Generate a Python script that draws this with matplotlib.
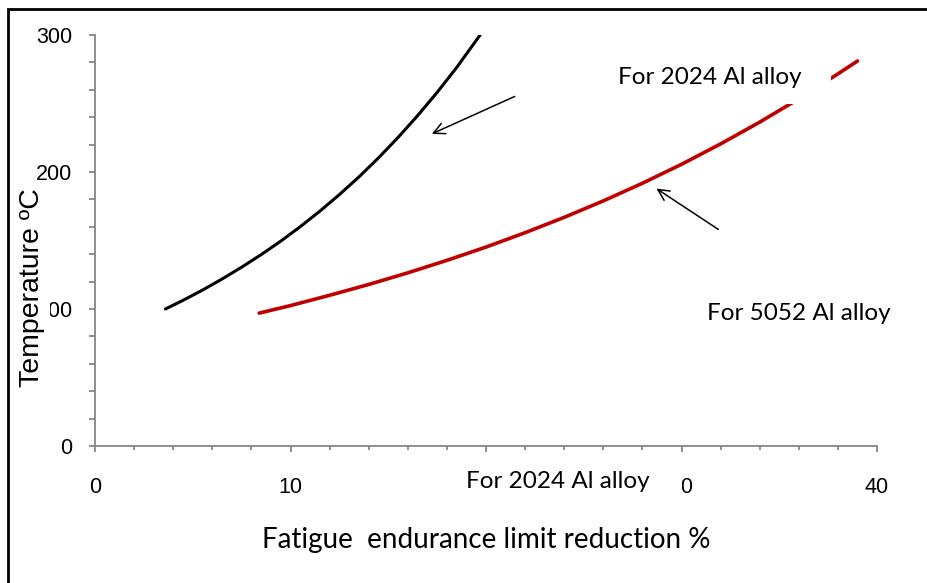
import matplotlib
matplotlib.use("Agg")
import matplotlib.pyplot as plt
from matplotlib.ticker import MultipleLocator
from matplotlib.patches import Rectangle

# Data
alloy_2024_x = [3.6, 4.5, 5.5, 6.5, 7.5, 8.5, 9.5, 10.5, 11.5, 12.5, 13.5,
                14.5, 15.5, 16.5, 17.5, 18.5, 19.7]
alloy_2024_y = [100, 106.3, 113.8, 121.9, 130.5, 139.7, 149.5, 160.1, 171.4,
                183.5, 196.4, 210.3, 225.2, 241.1, 258.1, 276.3, 300]
alloy_5052_x = [8.4, 10, 12, 14, 16, 18, 20, 22, 24, 26, 28, 30, 32, 34,
                36, 38, 39]
alloy_5052_y = [97, 102.5, 110, 117.9, 126.4, 135.5, 145.2, 155.7, 166.9,
                178.9, 191.8, 205.6, 220.5, 236.4, 253.4, 271.6, 281]

x_ticks = [0, 10, 20, 30, 40]
y_ticks = [0, 100, 200, 300]

fig = plt.figure(figsize=(9.27, 5.83), dpi=100)
W, H = 927, 583
ax = fig.add_axes([95 / W, 1 - 446 / H, (877 - 95) / W, (446 - 35) / H])

ax.plot(alloy_2024_x, alloy_2024_y, color="black", lw=2.2,
        solid_capstyle="round", solid_joinstyle="round")
ax.plot(alloy_5052_x, alloy_5052_y, color="#C00000", lw=2.6,
        solid_capstyle="round", solid_joinstyle="round")

ax.set_xlim(0, 40)
ax.set_ylim(0, 300)
ax.set_xticks(x_ticks)
ax.set_yticks(y_ticks)
ax.xaxis.set_minor_locator(MultipleLocator(2))
ax.yaxis.set_minor_locator(MultipleLocator(20))
for s in ["top", "right"]:
    ax.spines[s].set_visible(False)
for s in ["left", "bottom"]:
    ax.spines[s].set_color("#868686")
    ax.spines[s].set_linewidth(1.3)
ax.tick_params(axis="both", which="both", color="#868686", width=1.3,
               labelsize=15.5, direction="out")
ax.tick_params(axis="y", which="major", length=4.5, pad=12)
ax.tick_params(axis="y", which="minor", length=4.5)
ax.tick_params(axis="x", which="major", length=4.5, pad=18)
ax.tick_params(axis="x", which="minor", length=3)
for lab in ax.get_xticklabels() + ax.get_yticklabels():
    lab.set_fontfamily("Liberation Sans")

# arrows
ax.annotate("", xy=(17.1, 227), xytext=(21.6, 256),
            arrowprops=dict(arrowstyle="->", color="black", lw=1.1,
                            mutation_scale=20))
ax.annotate("", xy=(28.6, 189), xytext=(32.0, 157),
            arrowprops=dict(arrowstyle="->", color="black", lw=1.1,
                            mutation_scale=20))

tfont = dict(fontsize=17.5, family="Lato", color="black")
# white box behind the upper label (hides part of the red curve)
ax.add_patch(Rectangle((0.655, 0.832), 0.286, 0.127, transform=ax.transAxes,
                       facecolor="white", edgecolor="none", zorder=9,
                       clip_on=False))
ax.text((618 - 95) / 19.55, (446 - 77) / 1.37, "For 2024 Al alloy", ha="left",
        va="center", zorder=10, **tfont)
ax.text((707 - 95) / 19.55, (446 - 313) / 1.37, "For 5052 Al alloy", ha="left",
        va="center", **tfont)
# white box behind the lower label (hides the "3" of 30)
fig.patches.append(Rectangle((460 / W, 1 - 500 / H), (682 - 460) / W, 35 / H,
                             transform=fig.transFigure, facecolor="white",
                             edgecolor="none", zorder=5))
fig.text(466 / W, 1 - 481 / H, "For 2024 Al alloy", ha="left", va="center",
         zorder=10, **tfont)

fig.text(486 / W, 1 - 540 / H, "Fatigue  endurance limit reduction %",
         ha="center", va="center", fontsize=20, family="Lato")
# white box behind the y label (hides the "1" of 100)
fig.patches.append(Rectangle((16 / W, 1 - 322 / H), (50 - 16) / W, 28 / H,
                             transform=fig.transFigure, facecolor="white",
                             edgecolor="none", zorder=5))
fig.text(32 / W, 1 - 288 / H, "Temperature ºC", rotation=90, ha="center",
         va="center", fontsize=20.5, family="Liberation Sans", zorder=10)

fig.patches.append(Rectangle((8 / W, -0.1), 1.2, 1 - 9 / H + 0.1,
                             transform=fig.transFigure, fill=False,
                             edgecolor="black", lw=2, zorder=0))

fig.savefig("out.png", dpi=100)
